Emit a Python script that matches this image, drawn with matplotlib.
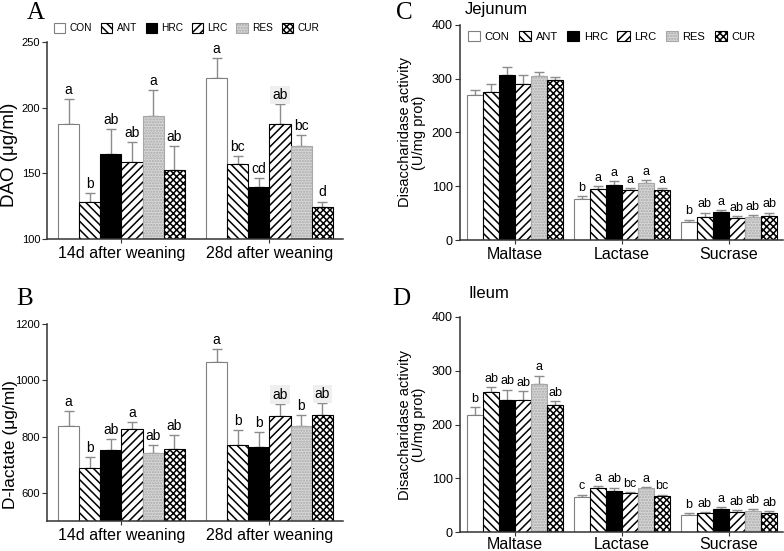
import matplotlib
matplotlib.use("Agg")
import matplotlib.pyplot as plt
import matplotlib.patches as mpatches
import numpy as np

plt.rcParams['font.family'] = ['Liberation Sans', 'DejaVu Sans']
plt.rcParams['hatch.linewidth'] = 1.1

groups = ["CON", "ANT", "HRC", "LRC", "RES", "CUR"]

# Panel A: DAO
a_cats = ["14d after weaning", "28d after weaning"]
a_vals = {
    "CON": [187.5, 222.5], "ANT": [128, 157.5], "HRC": [164.5, 139.3],
    "LRC": [159, 187.5], "RES": [193.4, 170.5], "CUR": [152.7, 124.6]}
a_errs = {
    "CON": [19, 15], "ANT": [7, 6], "HRC": [19.5, 7.5],
    "LRC": [15, 15.5], "RES": [20, 9], "CUR": [18, 4]}
a_lbls = {
    "CON": ["a", "a"], "ANT": ["b", "bc"], "HRC": ["ab", "cd"],
    "LRC": ["ab", "ab"], "RES": ["a", "bc"], "CUR": ["ab", "d"]}

# Panel B: D-lactate
b_cats = ["14d after weaning", "28d after weaning"]
b_vals = {
    "CON": [839, 1064], "ANT": [690, 770], "HRC": [754, 764],
    "LRC": [828, 873], "RES": [740, 838], "CUR": [757, 876]}
b_errs = {
    "CON": [51, 48], "ANT": [37, 52], "HRC": [38, 51],
    "LRC": [25, 44], "RES": [30, 37], "CUR": [48, 43]}
b_lbls = {
    "CON": ["a", "a"], "ANT": ["b", "b"], "HRC": ["ab", "b"],
    "LRC": ["a", "ab"], "RES": ["ab", "b"], "CUR": ["ab", "ab"]}

# Panel C: Jejunum
c_cats = ["Maltase", "Lactase", "Sucrase"]
c_vals = {
    "CON": [270, 76, 34], "ANT": [275, 95, 43], "HRC": [306, 102, 52],
    "LRC": [290, 93, 41], "RES": [305, 106, 42], "CUR": [298, 93, 45]}
c_errs = {
    "CON": [8, 5, 4], "ANT": [14, 6, 8], "HRC": [16, 8, 4],
    "LRC": [16, 3, 3], "RES": [7, 6, 5], "CUR": [5, 3, 6]}
c_lbls = {
    "CON": ["", "b", "b"], "ANT": ["", "a", "ab"], "HRC": ["", "a", "a"],
    "LRC": ["", "a", "ab"], "RES": ["", "a", "ab"], "CUR": ["", "a", "ab"]}

# Panel D: Ileum
d_cats = ["Maltase", "Lactase", "Sucrase"]
d_vals = {
    "CON": [217, 66, 32], "ANT": [260, 83, 35], "HRC": [245, 77, 44],
    "LRC": [245, 72, 38], "RES": [275, 82, 40], "CUR": [237, 68, 36]}
d_errs = {
    "CON": [16, 4, 3], "ANT": [10, 2, 2], "HRC": [20, 6, 3],
    "LRC": [18, 3, 4], "RES": [16, 2, 4], "CUR": [7, 2, 4]}
d_lbls = {
    "CON": ["b", "c", "b"], "ANT": ["ab", "a", "ab"], "HRC": ["ab", "ab", "a"],
    "LRC": ["ab", "bc", "ab"], "RES": ["a", "a", "ab"], "CUR": ["ab", "bc", "ab"]}

styles = {
    "CON": dict(facecolor="white", edgecolor="#808080", hatch=None),
    "ANT": dict(facecolor="white", edgecolor="black", hatch="\\\\\\\\"),
    "HRC": dict(facecolor="black", edgecolor="black", hatch=None),
    "LRC": dict(facecolor="white", edgecolor="black", hatch="////"),
    "RES": dict(facecolor="#d8d8d8", edgecolor="#a8a8a8", hatch="......"),
    "CUR": dict(facecolor="white", edgecolor="black", hatch="xxxxx"),
}

fig = plt.figure(figsize=(7.84, 5.51), dpi=100)


def draw(ax, cats, vals, errs, lbls, width, lblsize, highlight=()):
    x = np.arange(len(cats))
    n = len(groups)
    for i, g in enumerate(groups):
        xs = x + (i - (n - 1) / 2) * width
        st = styles[g]
        ax.bar(xs, vals[g], width, facecolor=st["facecolor"],
               edgecolor=st["edgecolor"], hatch=st["hatch"], linewidth=0.8,
               zorder=2)
        ax.errorbar(xs, vals[g], yerr=[np.zeros(len(cats)), errs[g]],
                    fmt="none", ecolor="#8c8c8c", elinewidth=1.0,
                    capsize=3.5, capthick=1.0, zorder=1)
        for j in range(len(cats)):
            t = lbls[g][j]
            if not t:
                continue
            kw = {}
            if (g, j) in highlight:
                kw["bbox"] = dict(facecolor="#efefef", edgecolor="none", pad=1.5)
            ax.annotate(t, (xs[j], vals[g][j] + errs[g][j]), xytext=(0, 1.5),
                        textcoords="offset points", ha="center", va="bottom",
                        fontsize=lblsize, zorder=3, **kw)
    ax.set_xticks(x)
    ax.set_xticklabels(cats)
    for s in ["top", "right"]:
        ax.spines[s].set_visible(False)
    for s in ["left", "bottom"]:
        ax.spines[s].set_color("#333333")
        ax.spines[s].set_linewidth(1.1)
    ax.tick_params(axis="x", length=3, color="#333333", pad=2)
    ax.tick_params(axis="y", length=3.5, color="#333333", pad=1.5)


# A
axA = fig.add_axes([0.060, 0.566, 0.3775, 0.358])
draw(axA, a_cats, a_vals, a_errs, a_lbls, 0.143, 10, highlight={("LRC", 1)})
axA.set_xlim(-0.503, 1.497)
axA.set_ylim(100, 250)
axA.set_yticks([100, 150, 200, 250])
axA.tick_params(axis="y", labelsize=8)
axA.tick_params(axis="x", labelsize=11.5)
axA.set_ylabel("DAO (μg/ml)", fontsize=13.5)
axA.yaxis.set_label_coords(-0.097, 0.43)

# B
axB = fig.add_axes([0.060, 0.0544, 0.3775, 0.3576])
draw(axB, b_cats, b_vals, b_errs, b_lbls, 0.143, 10,
     highlight={("LRC", 1), ("CUR", 1)})
axB.set_xlim(-0.503, 1.497)
axB.set_ylim(500, 1200)
axB.set_yticks([600, 800, 1000, 1200])
axB.tick_params(axis="y", labelsize=8)
axB.tick_params(axis="x", labelsize=11.5)
axB.set_ylabel("D-lactate (μg/ml)", fontsize=12.5)
axB.yaxis.set_label_coords(-0.097, 0.39)

# C
axC = fig.add_axes([0.5863, 0.5644, 0.4130, 0.3908])
draw(axC, c_cats, c_vals, c_errs, c_lbls, 0.15, 9)
axC.set_xlim(-0.52, 2.51)
axC.set_ylim(0, 400)
axC.set_yticks([0, 100, 200, 300, 400])
axC.tick_params(axis="y", labelsize=9)
axC.tick_params(axis="x", labelsize=11.5)
axC.set_ylabel("Disaccharidase activity\n(U/mg prot)", fontsize=10.5,
               labelpad=4, linespacing=1.0)

# D
axD = fig.add_axes([0.5863, 0.034, 0.4130, 0.391])
draw(axD, d_cats, d_vals, d_errs, d_lbls, 0.15, 9)
axD.set_xlim(-0.52, 2.51)
axD.set_ylim(0, 400)
axD.set_yticks([0, 100, 200, 300, 400])
axD.tick_params(axis="y", labelsize=9)
axD.tick_params(axis="x", labelsize=11.5, pad=0.5)
axD.set_ylabel("Disaccharidase activity\n(U/mg prot)", fontsize=10.5,
               labelpad=4, linespacing=1.0)

# Legends
handles = [mpatches.Patch(facecolor=styles[g]["facecolor"],
                          edgecolor=styles[g]["edgecolor"],
                          hatch=styles[g]["hatch"], linewidth=0.8,
                          label=g) for g in groups]
fig.legend(handles=handles, loc="center left", bbox_to_anchor=(0.069, 0.949),
           ncol=6, frameon=False, fontsize=7.3, handlelength=1.1,
           handleheight=1.1, handletextpad=0.45, columnspacing=0.85,
           borderaxespad=0, borderpad=0)
fig.legend(handles=handles, loc="center left", bbox_to_anchor=(0.597, 0.934),
           ncol=6, frameon=False, fontsize=8, handlelength=1.1,
           handleheight=1.1, handletextpad=0.4, columnspacing=0.85,
           borderaxespad=0, borderpad=0)

# Panel letters and titles
serif = ["Liberation Serif", "DejaVu Serif"]
fig.text(0.034, 0.996, "A", family=serif, fontsize=18, va="top", ha="left")
fig.text(0.021, 0.478, "B", family=serif, fontsize=18, va="top", ha="left")
fig.text(0.505, 0.996, "C", family=serif, fontsize=18, va="top", ha="left")
fig.text(0.500, 0.478, "D", family=serif, fontsize=18, va="top", ha="left")
fig.text(0.593, 0.982, "Jejunum", fontsize=12, va="center", ha="left")
fig.text(0.597, 0.468, "Ileum", fontsize=12, va="center", ha="left")

fig.savefig("out.png", dpi=100)
